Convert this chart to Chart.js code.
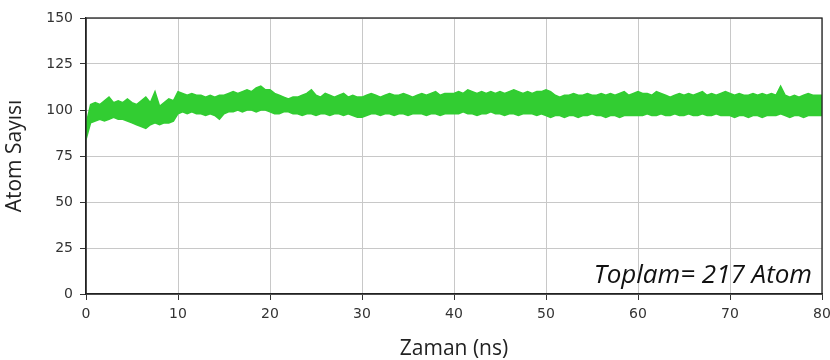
<!DOCTYPE html>
<html>
<head>
<meta charset="utf-8">
<script src="https://cdn.jsdelivr.net/npm/chart.js@4.4.1/dist/chart.umd.min.js"></script>
<style>
  html, body { margin: 0; padding: 0; background: #fff; }
  #wrap { width: 830px; height: 360px; }
</style>
</head>
<body>
<div id="wrap"><canvas id="grafik" width="830" height="360"></canvas></div>
<script>
// zaman ekseni: 0 - 80 ns, 0.5 ns aralikla
const zaman = [];
for (let i = 0; i <= 160; i++) zaman.push(i / 2);

// bandin ust kenari (atom sayisi)
const ustDeger = [
  92, 103, 104, 103, 105, 107, 104, 105, 104, 106, 104, 103, 105, 107, 104, 110, 102, 104, 106, 105,
  110, 109, 108, 109, 108, 108, 107, 108, 107, 108, 108, 109, 110, 109, 110, 111, 110, 112, 113, 111,
  111, 109, 108, 107, 106, 107, 107, 108, 109, 111, 108, 107, 109, 108, 107, 108, 109, 107, 108, 107,
  107, 108, 109, 108, 107, 108, 109, 108, 108, 109, 108, 107, 108, 109, 108, 109, 110, 108, 109, 109,
  109, 110, 109, 111, 110, 109, 110, 109, 110, 109, 110, 109, 110, 111, 110, 109, 110, 109, 110, 110,
  111, 110, 108, 107, 108, 108, 109, 108, 108, 109, 108, 108, 109, 108, 109, 108, 109, 110, 108, 109,
  110, 109, 109, 108, 110, 109, 108, 107, 108, 109, 108, 109, 108, 109, 110, 108, 109, 108, 109, 110,
  109, 108, 109, 108, 108, 109, 108, 109, 108, 109, 108, 113, 108, 107, 108, 107, 108, 109, 108, 108, 108
];

// bandin alt kenari
const altDeger = [
  84, 93, 94, 95, 94, 95, 96, 95, 95, 94, 93, 92, 91, 90, 92, 93, 92, 93, 93, 94,
  98, 99, 98, 99, 98, 98, 97, 98, 97, 95, 98, 99, 99, 100, 99, 100, 100, 99, 100, 100,
  99, 98, 98, 99, 99, 98, 98, 97, 98, 98, 97, 98, 98, 97, 98, 98, 97, 98, 97, 96,
  96, 97, 98, 98, 97, 98, 98, 97, 98, 98, 97, 98, 98, 98, 97, 98, 98, 97, 98, 98,
  98, 98, 99, 98, 98, 97, 98, 98, 99, 98, 98, 97, 98, 98, 97, 98, 98, 98, 97, 98,
  97, 96, 97, 97, 96, 97, 97, 96, 97, 97, 98, 97, 97, 96, 97, 97, 96, 97, 97, 97,
  97, 97, 98, 97, 97, 98, 97, 97, 98, 97, 97, 98, 97, 97, 98, 97, 97, 98, 97, 97,
  97, 96, 97, 97, 96, 97, 97, 96, 97, 97, 97, 98, 97, 96, 97, 97, 96, 97, 97, 97, 97
];

const xTikler = [0, 10, 20, 30, 40, 50, 60, 70, 80];
const yTikler = [0, 25, 50, 75, 100, 125, 150];
const notYazisi = 'Toplam= 217 Atom';

const yesil = '#32cd32';

const altNoktalar = zaman.map((t, i) => ({ x: t, y: altDeger[i] }));
const ustNoktalar = zaman.map((t, i) => ({ x: t, y: ustDeger[i] }));

// cerceve ve not yazisi
const cercevePlugin = {
  id: 'cerceve',
  afterDraw(chart) {
    const { ctx, chartArea } = chart;
    ctx.save();
    ctx.strokeStyle = '#222';
    ctx.lineWidth = 1.3;
    ctx.strokeRect(chartArea.left, chartArea.top, chartArea.right - chartArea.left, chartArea.bottom - chartArea.top);
    ctx.font = 'italic 26px "Open Sans"';
    ctx.fillStyle = '#111';
    ctx.textAlign = 'right';
    ctx.textBaseline = 'alphabetic';
    ctx.fillText(notYazisi, chartArea.right - 10, chartArea.bottom - 11);
    ctx.restore();
  }
};

const ctx = document.getElementById('grafik').getContext('2d');
new Chart(ctx, {
  type: 'line',
  data: {
    datasets: [
      {
        label: 'alt',
        data: altNoktalar,
        borderColor: yesil,
        borderWidth: 1.5,
        pointRadius: 0,
        fill: false,
        tension: 0
      },
      {
        label: 'ust',
        data: ustNoktalar,
        borderColor: yesil,
        borderWidth: 1.5,
        backgroundColor: yesil,
        pointRadius: 0,
        fill: '-1',
        tension: 0
      }
    ]
  },
  options: {
    responsive: false,
    animation: false,
    layout: { padding: { top: 18, right: 8, left: 0, bottom: 0 } },
    plugins: {
      legend: { display: false },
      tooltip: { enabled: false }
    },
    scales: {
      x: {
        type: 'linear',
        min: 0,
        max: 80,
        afterBuildTicks: (s) => { s.ticks = xTikler.map(v => ({ value: v })); },
        afterFit: (s) => { s.height = 66; s.paddingLeft = 0; s.paddingRight = 0; },
        grid: { color: '#c8c8c8', lineWidth: 1, tickColor: '#333', tickLength: 6 },
        border: { color: '#222', width: 1.3 },
        ticks: { color: '#333', font: { family: 'DejaVu Sans', size: 14 }, padding: 6, maxRotation: 0 },
        title: {
          display: true,
          text: 'Zaman (ns)',
          color: '#222',
          font: { family: 'Open Sans', size: 21 },
          padding: { top: 9, bottom: -2 }
        }
      },
      y: {
        min: 0,
        max: 150,
        afterBuildTicks: (s) => { s.ticks = yTikler.map(v => ({ value: v })); },
        afterFit: (s) => { s.width = 86; s.paddingTop = 0; s.paddingBottom = 0; },
        grid: { color: '#c8c8c8', lineWidth: 1, tickColor: '#333', tickLength: 6 },
        border: { color: '#222', width: 1.3 },
        ticks: { color: '#333', font: { family: 'DejaVu Sans', size: 14 }, padding: 7 },
        title: {
          display: true,
          text: 'Atom Sayısı',
          color: '#222',
          font: { family: 'Open Sans', size: 21 },
          padding: { top: 2, bottom: 0 }
        }
      }
    }
  },
  plugins: [cercevePlugin]
});
</script>
</body>
</html>
